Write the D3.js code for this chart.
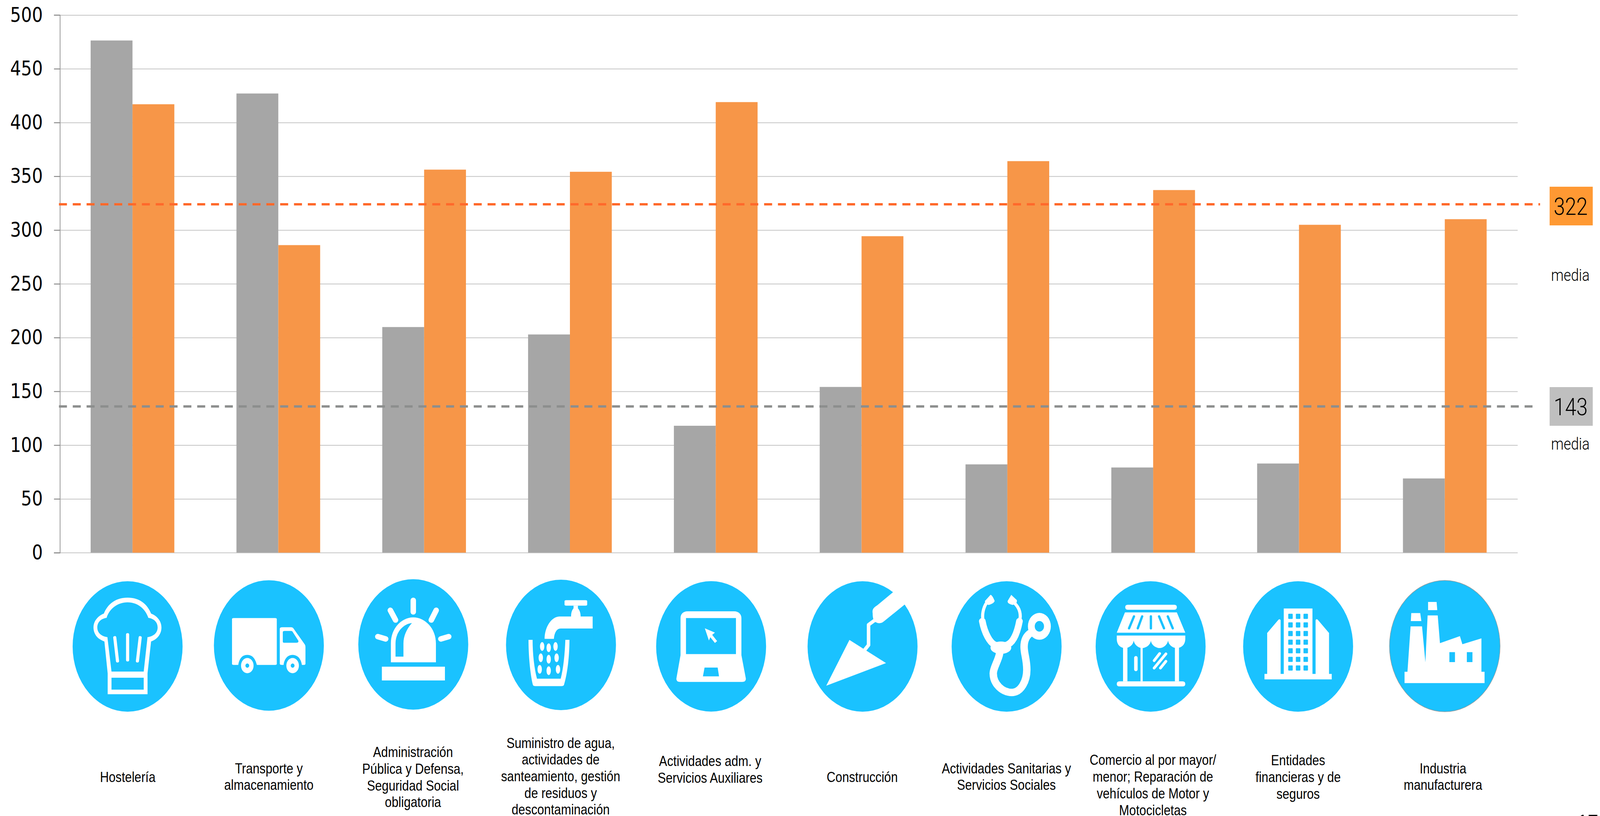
<!DOCTYPE html>
<html>
<head>
<meta charset="utf-8">
<script src="https://cdn.jsdelivr.net/npm/d3@7"></script>
<style>
  html, body { margin: 0; padding: 0; background: #fff; overflow: hidden; }
  svg { display: block; width: 100vw; height: 100vh; }
</style>
</head>
<body>
<script>
// data
var categories = ["Hostelería", "Transporte", "Administración", "Suministro", "Actividades adm",
                  "Construcción", "Sanitarias", "Comercio", "Entidades", "Industria"];
var greyValues = [476.3, 427, 209.8, 202.9, 118, 154.1, 82.1, 79.2, 82.9, 69];
var orangeValues = [417, 286, 356.2, 354.2, 419, 294.3, 364.1, 337.2, 304.9, 310.1];
var yTicks = [0, 50, 100, 150, 200, 250, 300, 350, 400, 450, 500];
var categoryLines = [
  ["Hostelería"],
  ["Transporte y", "almacenamiento"],
  ["Administración", "Pública y Defensa,", "Seguridad Social", "obligatoria"],
  ["Suministro de agua,", "actividades de", "santeamiento, gestión", "de residuos y", "descontaminación"],
  ["Actividades adm. y", "Servicios Auxiliares"],
  ["Construcción"],
  ["Actividades Sanitarias y", "Servicios Sociales"],
  ["Comercio al por mayor/", "menor; Reparación de", "vehículos de Motor y", "Motocicletas"],
  ["Entidades", "financieras y de", "seguros"],
  ["Industria", "manufacturera"]
];
var meanLineValues = [324, 136];
var meanLabels = ["322", "143"];

// layout
var W = 4860, H = 2089;
var plot = { left: 182, right: 4610, top: 38.4, bottom: 1414.8 };
var iconX = [387.6, 816.7, 1255.3, 1704, 2160, 2620, 3057.6, 3495, 3943, 4388.5];
var iconY = [1655, 1652.4, 1649.7, 1651, 1654.7, 1655, 1655, 1655, 1655, 1654];
var labelX = [388, 816.7, 1254.5, 1703, 2157, 2619, 3057, 3502, 3943, 4383];
var labelMid = [2002, 2001, 2002.4, 2000, 1982.5, 2002, 2001, 2022.5, 2002, 2001];

// the drawing is always 4860x2089 units, the viewBox fits it to the window
var svg = d3.select("body").append("svg")
  .attr("viewBox", "0 0 " + W + " " + H).attr("preserveAspectRatio", "none");
svg.append("rect").attr("width", W).attr("height", H).attr("fill", "#fff");

var x0 = d3.scaleBand().domain(categories).range([181, plot.right])
  .paddingInner(0.426).paddingOuter(0.213);
var x1 = d3.scaleBand().domain(["grey", "orange"]).range([0, x0.bandwidth()]);
var y = d3.scaleLinear().domain([0, 500]).range([plot.bottom, plot.top]);

// grid
var grid = svg.append("g").attr("transform", "translate(" + plot.left + ",0)")
  .call(d3.axisLeft(y).tickValues(yTicks).tickSize(plot.left - plot.right).tickFormat(""));
grid.select(".domain").remove();
grid.selectAll("line").attr("stroke", "#c4c4c4").attr("stroke-width", 2);

// bars
var groups = svg.append("g").selectAll("g").data(categories).join("g")
  .attr("transform", function (d) { return "translate(" + x0(d) + ",0)"; });
groups.append("rect")
  .attr("x", x1("grey")).attr("width", x1.bandwidth())
  .attr("y", function (d, i) { return y(greyValues[i]); })
  .attr("height", function (d, i) { return y(0) - y(greyValues[i]); })
  .attr("fill", "#a6a6a6");
groups.append("rect")
  .attr("x", x1("orange")).attr("width", x1.bandwidth())
  .attr("y", function (d, i) { return y(orangeValues[i]); })
  .attr("height", function (d, i) { return y(0) - y(orangeValues[i]); })
  .attr("fill", "#f79648");

// y axis
var axis = svg.append("g").attr("transform", "translate(" + plot.left + ",0)")
  .call(d3.axisLeft(y).tickValues(yTicks).tickSize(18).tickPadding(34));
axis.select(".domain").attr("stroke", "#999").attr("stroke-width", 2.4);
axis.selectAll("line").attr("stroke", "#888").attr("stroke-width", 2.4);
axis.selectAll("text").attr("font-family", "DejaVu Sans").attr("font-size", 52).attr("fill", "#000");

// dashed mean lines
var meanEnd = [4678, 4655], meanColor = ["#ff692b", "#8c8e8d"];
svg.append("g").selectAll("line").data(meanLineValues).join("line")
  .attr("x1", 179).attr("x2", function (d, i) { return meanEnd[i]; })
  .attr("y1", function (d) { return y(d); }).attr("y2", function (d) { return y(d); })
  .attr("stroke", function (d, i) { return meanColor[i]; })
  .attr("stroke-width", 6).attr("stroke-dasharray", "24.3 17.7");

// mean boxes on the right
var boxY = [478, 991], boxColor = ["#ff9933", "#bfbfbf"], mediaY = [719, 1151.5];
meanLabels.forEach(function (t, i) {
  svg.append("rect").attr("x", 4707).attr("y", boxY[i]).attr("width", 131).attr("height", 99).attr("fill", boxColor[i]);
  svg.append("text").attr("x", 4771).attr("y", boxY[i] + 72).attr("text-anchor", "middle")
    .attr("font-family", "Roboto").attr("font-weight", 300).attr("font-size", 62).attr("fill", "#000").text(t);
  svg.append("text").attr("x", 4770).attr("y", mediaY[i]).attr("text-anchor", "middle")
    .attr("font-family", "Roboto").attr("font-weight", 300).attr("font-size", 43).attr("fill", "#000").text("media");
});

// category labels
var LINE = 42.7;
categoryLines.forEach(function (lines, i) {
  var first = labelMid[i] - (lines.length - 1) / 2 * LINE;
  var t = svg.append("text").attr("text-anchor", "middle")
    .attr("font-family", "Liberation Sans").attr("font-size", 37).attr("fill", "#000");
  lines.forEach(function (s, j) {
    t.append("tspan").attr("x", labelX[i]).attr("y", first + j * LINE).text(s);
  });
});

// page number, only its top shows in the reference
svg.append("text").attr("x", 4855).attr("y", 2126).attr("text-anchor", "end")
  .attr("font-family", "Liberation Sans").attr("font-size", 58).attr("fill", "#000").text("17");

var BLUE = "#1ac2ff";
var icons = [
  { c: [287, 608], w: [
      "M214 878V760L202 580C175 565 162 535 162 500C162 465 178 435 200 422C215 365 245 332 287 332C329 332 358 365 373 422C395 435 411 465 411 500C411 535 398 565 373 580L360 760V878Z"
      + "M228 750L213 555C190 550 176 530 176 500C176 470 190 450 210 446C220 395 250 358 287 358C324 358 352 395 363 446C383 450 397 470 397 500C397 530 383 550 360 555L346 750Z"
      + "M228 785H346V852H228Z" ],
    s: [["M240 558L250 690", 8], ["M287 541V684", 8], ["M333 558L323 690", 8]] },
  { c: [804, 602], w: [
      "M675 447H827Q833 447 833 453V706Q833 712 827 712H760C755 680 745 655 725 655C705 655 695 680 692 712H675Q669 712 669 706V453Q669 447 675 447Z",
      "M853 499H885Q892 499 895 508L935 595Q938 600 938 610V705Q938 712 932 712H925C922 680 910 655 891 655C872 655 860 680 858 712H852Q844 712 844 705V508Q844 499 853 499Z"
      + "M862 520H885Q890 520 892 527L912 575Q914 587 904 587H862Q855 587 855 580V527Q855 520 862 520Z",
      "M702 716A23 43 0 1 0 748 716A23 43 0 1 0 702 716ZM718 716A7 12 0 1 0 732 716A7 12 0 1 0 718 716Z",
      "M868 716A23 43 0 1 0 914 716A23 43 0 1 0 868 716ZM884 716A7 12 0 1 0 898 716A7 12 0 1 0 884 716Z" ] },
  { c: [1333, 596], w: [
      "M1218 722H1449V800H1218Z",
      "M1251 697V590C1251 505 1290 443 1333 443C1376 443 1416 505 1416 590V697Z"
      + "M1268 665V590C1268 530 1295 480 1328 475C1308 510 1297 550 1297 590V665Z" ],
    s: [["M1333 347V412", 14], ["M1249 403L1268 458", 14], ["M1417 403L1399 458", 14],
        ["M1203 552L1232 565", 14], ["M1463 552L1434 565", 14]] },
  { c: [306, 599], w: [
      "M319 352Q319 346 325 346H396Q402 346 402 352V371Q402 377 396 377H325Q319 377 319 371Z",
      "M352 377H368V392C375 405 378 420 378 438H422V506H305C290 506 282 530 280 565H246C246 500 270 440 300 438H343C343 420 345 405 352 392Z",
      "M187 570H202C202 650 208 730 218 790H305C315 730 320 650 322 570H337C337 660 330 760 317 825Q315 832 308 832H212Q205 832 203 825C193 760 187 660 187 570Z" ],
    e: [[237, 608], [261, 615], [286, 608], [232, 672], [261, 680], [290, 672], [228, 737], [261, 745], [295, 737]] },
  { c: [856, 605], w: [
      "M770 407H940C958 407 967 425 967 445V655L983 785Q985 806 970 806H742Q727 806 729 785L744 655V445C744 425 752 407 770 407Z"
      + "M764 445H947V649H764ZM832 725H880L885 775H826Z",
      "M833 503L870 527L860 540L878 575L870 586L853 553L848 572Z" ] },
  { c: [1411, 608], w: [
      "M1363 571L1497 702L1278 830Z",
      "M1448 420C1445 395 1455 385 1465 375L1535 285L1600 225L1600 330L1570 365L1490 465Q1475 485 1458 470Q1448 460 1448 420Z" ],
    s: [["M1420 625L1433 600V485L1455 460", 9]] },
  { c: [371, 608], w: [
      "M292 350L312 316Q318 316 327 350Q325 365 305 373Q290 368 292 350Z",
      "M375 350L388 316L408 345Q412 365 393 373Q372 365 375 350Z",
      "M312 615A38 35 0 1 0 388 615A38 35 0 1 0 312 615Z",
      "M449 494A42 76 0 1 0 533 494A42 76 0 1 0 449 494ZM474 494A17 30 0 1 0 508 494A17 30 0 1 0 474 494Z" ],
    s: [["M298 360C285 390 280 430 285 465", 8], ["M398 360C420 390 425 430 418 465", 8],
        ["M282 465C290 530 310 590 330 600", 17], ["M418 465C410 530 395 590 370 600", 17],
        ["M345 650C340 690 322 730 322 760C322 820 355 868 390 868C425 868 445 800 445 740C445 680 435 650 435 610C435 570 445 545 460 530", 19]] },
  { c: [899, 608], w: [
      "M815 372H986Q995 372 995 386Q995 400 986 400H815Q806 400 806 386Q806 372 815 372Z",
      "M805 415H995L1026 530H775Z",
      "M775 546H1026V565C1026 600 1010 617 995 617C980 617 965 600 963 575C960 600 945 617 932 617C918 617 902 600 900 575C898 600 882 617 868 617C855 617 840 600 837 575C835 600 820 617 805 617C790 617 775 600 775 565Z",
      "M798 610H814V805H798ZM862 612H870V805H862ZM988 610H1003V805H988Z",
      "M785 805H1016Q1026 805 1026 820Q1026 834 1016 834H785Q775 834 775 820Q775 805 785 805Z" ],
    b: [["M838 438L820 505", 6], ["M868 438L852 505", 6], ["M900 438V505", 6], ["M930 438L948 505", 6], ["M962 438L980 505", 6]],
    s: [["M845 672V738", 9], ["M912 688L932 648", 7], ["M912 730L955 650", 7], ["M935 730L955 692", 7]] },
  { c: [210, 608], sx: 1.469, w: [
      "M146 393H274V765H146Z",
      "M72 532L122 457Q130 450 132 460V765H72Z",
      "M288 460Q290 450 298 457L348 532V765H288Z",
      "M60 763H360V794H60Z" ],
    win: true },
  { c: [864.5, 605.5], sx: 1.469, w: [
      "M715 419H755L760 464H713Z",
      "M790 356H828L831 402H790Z",
      "M685 751H698L712 494H763L778 697L788 432H833L843 589L932 549L943 595L1028 562V751H1042V815H685Z"
      + "M885 640H910V696H885ZM963 640H988V696H963Z" ],
    ring: true }
];

icons.forEach(function (ic, i) {
  var sx = 1 / (ic.sx || 1.206), sy = 1 / 2.21;
  var g = svg.append("g").attr("transform", "translate(" + iconX[i] + "," + iconY[i] + ")");
  g.append("circle").attr("r", ic.ring ? 168 : 167).attr("fill", BLUE)
    .attr("stroke", ic.ring ? "#8a9aa0" : "none").attr("stroke-width", ic.ring ? 1.5 : 0);
  var inner = g.append("g").attr("transform", "scale(" + sx + "," + sy + ") translate(" + (-ic.c[0]) + "," + (-ic.c[1]) + ")");
  (ic.w || []).forEach(function (d) {
    inner.append("path").attr("d", d).attr("fill", "#fff").attr("fill-rule", "evenodd");
  });
  (ic.s || []).concat(ic.b || []).forEach(function (p, k) {
    var isBlue = k >= (ic.s || []).length;
    inner.append("path").attr("d", p[0]).attr("fill", "none")
      .attr("stroke", isBlue ? BLUE : "#fff").attr("stroke-width", p[1])
      .attr("stroke-linecap", "round").attr("stroke-linejoin", "round")
      .attr("vector-effect", "non-scaling-stroke");
  });
  (ic.e || []).forEach(function (p) {
    inner.append("ellipse").attr("cx", p[0]).attr("cy", p[1]).attr("rx", 8).attr("ry", 25).attr("fill", "#fff");
  });
  if (ic.win) {
    d3.range(7).forEach(function (r) {
      [166, 200, 234].forEach(function (wx) {
        inner.append("rect").attr("x", wx).attr("y", 423 + r * 48.7).attr("width", 20).attr("height", 29)
          .attr("rx", 3).attr("fill", BLUE);
      });
    });
  }
});
</script>
</body>
</html>
